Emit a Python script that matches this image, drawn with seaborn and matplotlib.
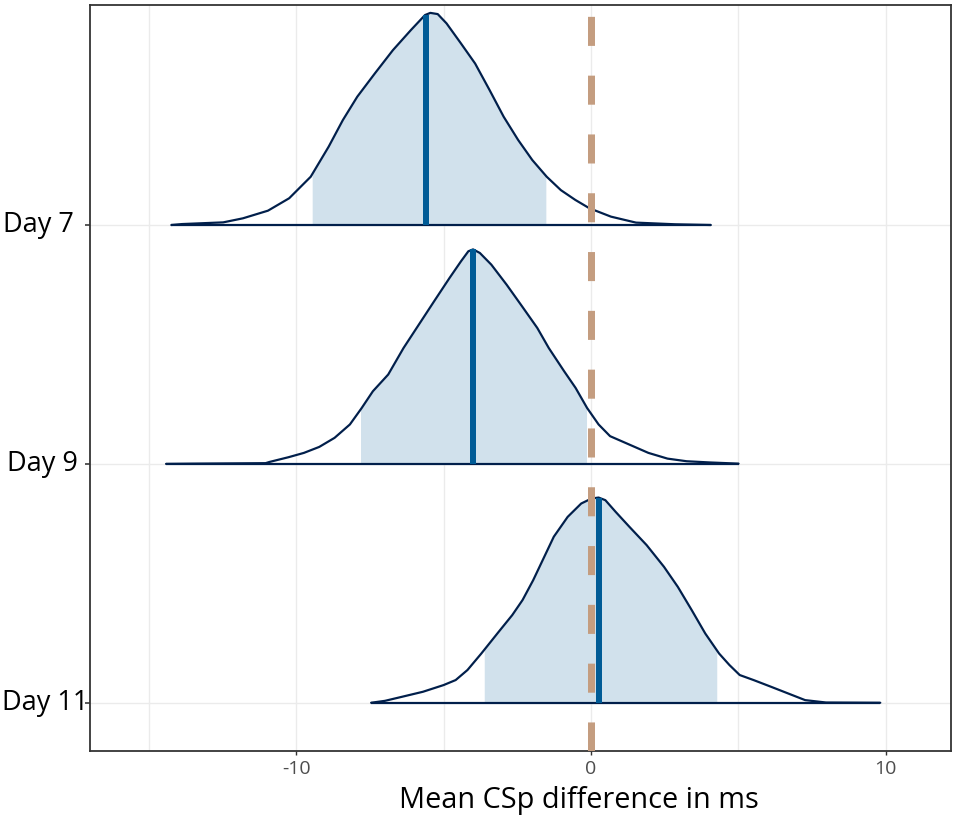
import numpy as np
import pandas as pd
import matplotlib
matplotlib.use("Agg")
import matplotlib.pyplot as plt
import seaborn as sns

# ---------------- data ----------------
days = ["Day 7", "Day 9", "Day 11"]
row_pos = [2, 1, 0]

day7_x = [-14.24, -13.87, -12.48, -11.81, -10.96, -10.24, -9.51, -8.90, -8.42, -7.93,
          -7.33, -6.72, -6.11, -5.63, -5.45, -5.20, -4.90, -4.41, -3.93, -3.44,
          -2.96, -2.47, -1.99, -1.50, -1.02, -0.53, -0.05, 0.68, 1.53, 2.86, 4.07]
day7_h = [0.0, 0.004, 0.011, 0.028, 0.060, 0.112, 0.202, 0.328, 0.439, 0.537,
          0.635, 0.732, 0.816, 0.879, 0.888, 0.883, 0.844, 0.760, 0.676, 0.565,
          0.453, 0.356, 0.272, 0.202, 0.146, 0.105, 0.070, 0.035, 0.010, 0.003, 0.0]

day9_x = [-14.42, -13.51, -11.04, -10.91, -10.26, -9.74, -9.22, -8.70, -8.18, -7.79,
          -7.40, -6.88, -6.36, -5.84, -5.32, -4.80, -4.41, -4.16, -4.00, -3.77,
          -3.38, -2.86, -2.34, -1.82, -1.43, -0.91, -0.52, -0.13, 0.26, 0.65,
          1.30, 1.95, 2.60, 3.25, 4.03, 5.01]
day9_h = [0.0, 0.001, 0.003, 0.008, 0.028, 0.046, 0.071, 0.109, 0.165, 0.232,
          0.304, 0.374, 0.485, 0.583, 0.681, 0.778, 0.848, 0.890, 0.898, 0.883,
          0.834, 0.750, 0.660, 0.569, 0.485, 0.388, 0.318, 0.234, 0.165, 0.116,
          0.081, 0.046, 0.022, 0.011, 0.006, 0.001]

day11_x = [-7.46, -6.99, -6.41, -5.70, -5.00, -4.59, -4.19, -3.72, -3.13, -2.67,
           -2.32, -1.96, -1.61, -1.26, -0.79, -0.33, 0.02, 0.26, 0.49, 0.84,
           1.31, 1.89, 2.48, 2.95, 3.42, 3.88, 4.35, 4.70, 5.05, 5.52,
           6.11, 6.69, 7.27, 7.98, 9.82]
day11_h = [0.0, 0.008, 0.025, 0.046, 0.074, 0.095, 0.137, 0.206, 0.297, 0.367,
           0.430, 0.513, 0.604, 0.695, 0.778, 0.834, 0.855, 0.859, 0.848, 0.799,
           0.736, 0.660, 0.569, 0.485, 0.388, 0.290, 0.206, 0.158, 0.116, 0.095,
           0.067, 0.039, 0.011, 0.001, 0.0]

medians = [-5.59, -4.00, 0.26]
ci_low = [-9.46, -7.82, -3.62]
ci_high = [-1.53, -0.15, 4.27]
ref_value = 0.0
x_major = [-10, 0, 10]
x_minor = [-15, -5, 5]
x_label = "Mean CSp difference in ms"

curves_x = [day7_x, day9_x, day11_x]
curves_h = [day7_h, day9_h, day11_h]

# ---------------- style ----------------
sns.set_theme(style="white")
plt.rcParams["font.family"] = ["Open Sans", "DejaVu Sans"]

FILL = "#d1e1ec"
OUTLINE = "#011f4b"
MEDIAN = "#005b96"
REF = "#c49d80"
GRID = "#ebebeb"
SPINE = "#333333"

px = 72 / 100.0  # points per pixel at dpi 100

fig = plt.figure(figsize=(9.57, 8.26), dpi=100)
ax = fig.add_axes([90 / 957, 1 - 751 / 826, 861 / 957, 746 / 826])

ax.set_xlim(-17.0, 12.22)
ax.set_ylim(-0.202, 2.921)

# grid
for gx in x_major + x_minor:
    ax.axvline(gx, color=GRID, lw=1.4 * px, zorder=0)
for r in row_pos:
    ax.axhline(r, color=GRID, lw=1.4 * px, zorder=0)

for i, day in enumerate(days):
    r = row_pos[i]
    xs = np.asarray(curves_x[i], dtype=float)
    hs = np.asarray(curves_h[i], dtype=float)
    lo, hi = ci_low[i], ci_high[i]
    inside = (xs > lo) & (xs < hi)
    fx = np.concatenate([[lo], xs[inside], [hi]])
    fh = np.concatenate([[np.interp(lo, xs, hs)], hs[inside], [np.interp(hi, xs, hs)]])
    ax.fill_between(fx, r, r + fh, color=FILL, lw=0, zorder=2)

    df = pd.DataFrame({"x": xs, "y": r + hs})
    sns.lineplot(data=df, x="x", y="y", sort=False, estimator=None,
                 color=OUTLINE, lw=2.2 * px, ax=ax, zorder=3)
    ax.plot([xs[0], xs[-1]], [r, r], color=OUTLINE, lw=2.2 * px, zorder=3,
            solid_capstyle="butt")

    m = medians[i]
    ax.plot([m, m], [r, r + np.interp(m, xs, hs)], color=MEDIAN, lw=6 * px,
            solid_capstyle="butt", zorder=4)

ref_line = ax.axvline(ref_value, color=REF, lw=7 * px, zorder=5)
ref_line.set_dashes((4.15, 4.25))
ref_line.set_dash_capstyle("butt")

# axes / ticks
ax.set_xticks(x_major)
ax.set_xticks(x_minor, minor=True)
ax.set_xticklabels([str(v) for v in x_major])
ax.set_yticks(row_pos)
ax.set_yticklabels([])
ax.tick_params(axis="x", which="major", length=4 * px, width=1.4 * px, color=SPINE,
               labelsize=14, labelcolor="#4d4d4d", pad=3.5)
ax.tick_params(axis="x", which="minor", length=0)
ax.tick_params(axis="y", which="major", length=5 * px, width=1.6 * px, color=SPINE, left=True)
ax.tick_params(axis="x", bottom=True)

for s in ax.spines.values():
    s.set_color(SPINE)
    s.set_linewidth(1.8 * px)
    s.set_visible(True)

ax.set_xlabel("")
ax.set_ylabel("")

# y labels (left-aligned near the figure edge, as in the reference)
label_px = [3, 7, 2]
for i, day in enumerate(days):
    ax.text((label_px[i] - 90) / 861, row_pos[i], day, transform=ax.get_yaxis_transform(),
            ha="left", va="center", fontsize=19.5, color="black")

fig.text(579 / 957, 1 - 808 / 826, x_label, ha="center", va="baseline", fontsize=20.8, color="black")

fig.savefig("out.png", dpi=100)
